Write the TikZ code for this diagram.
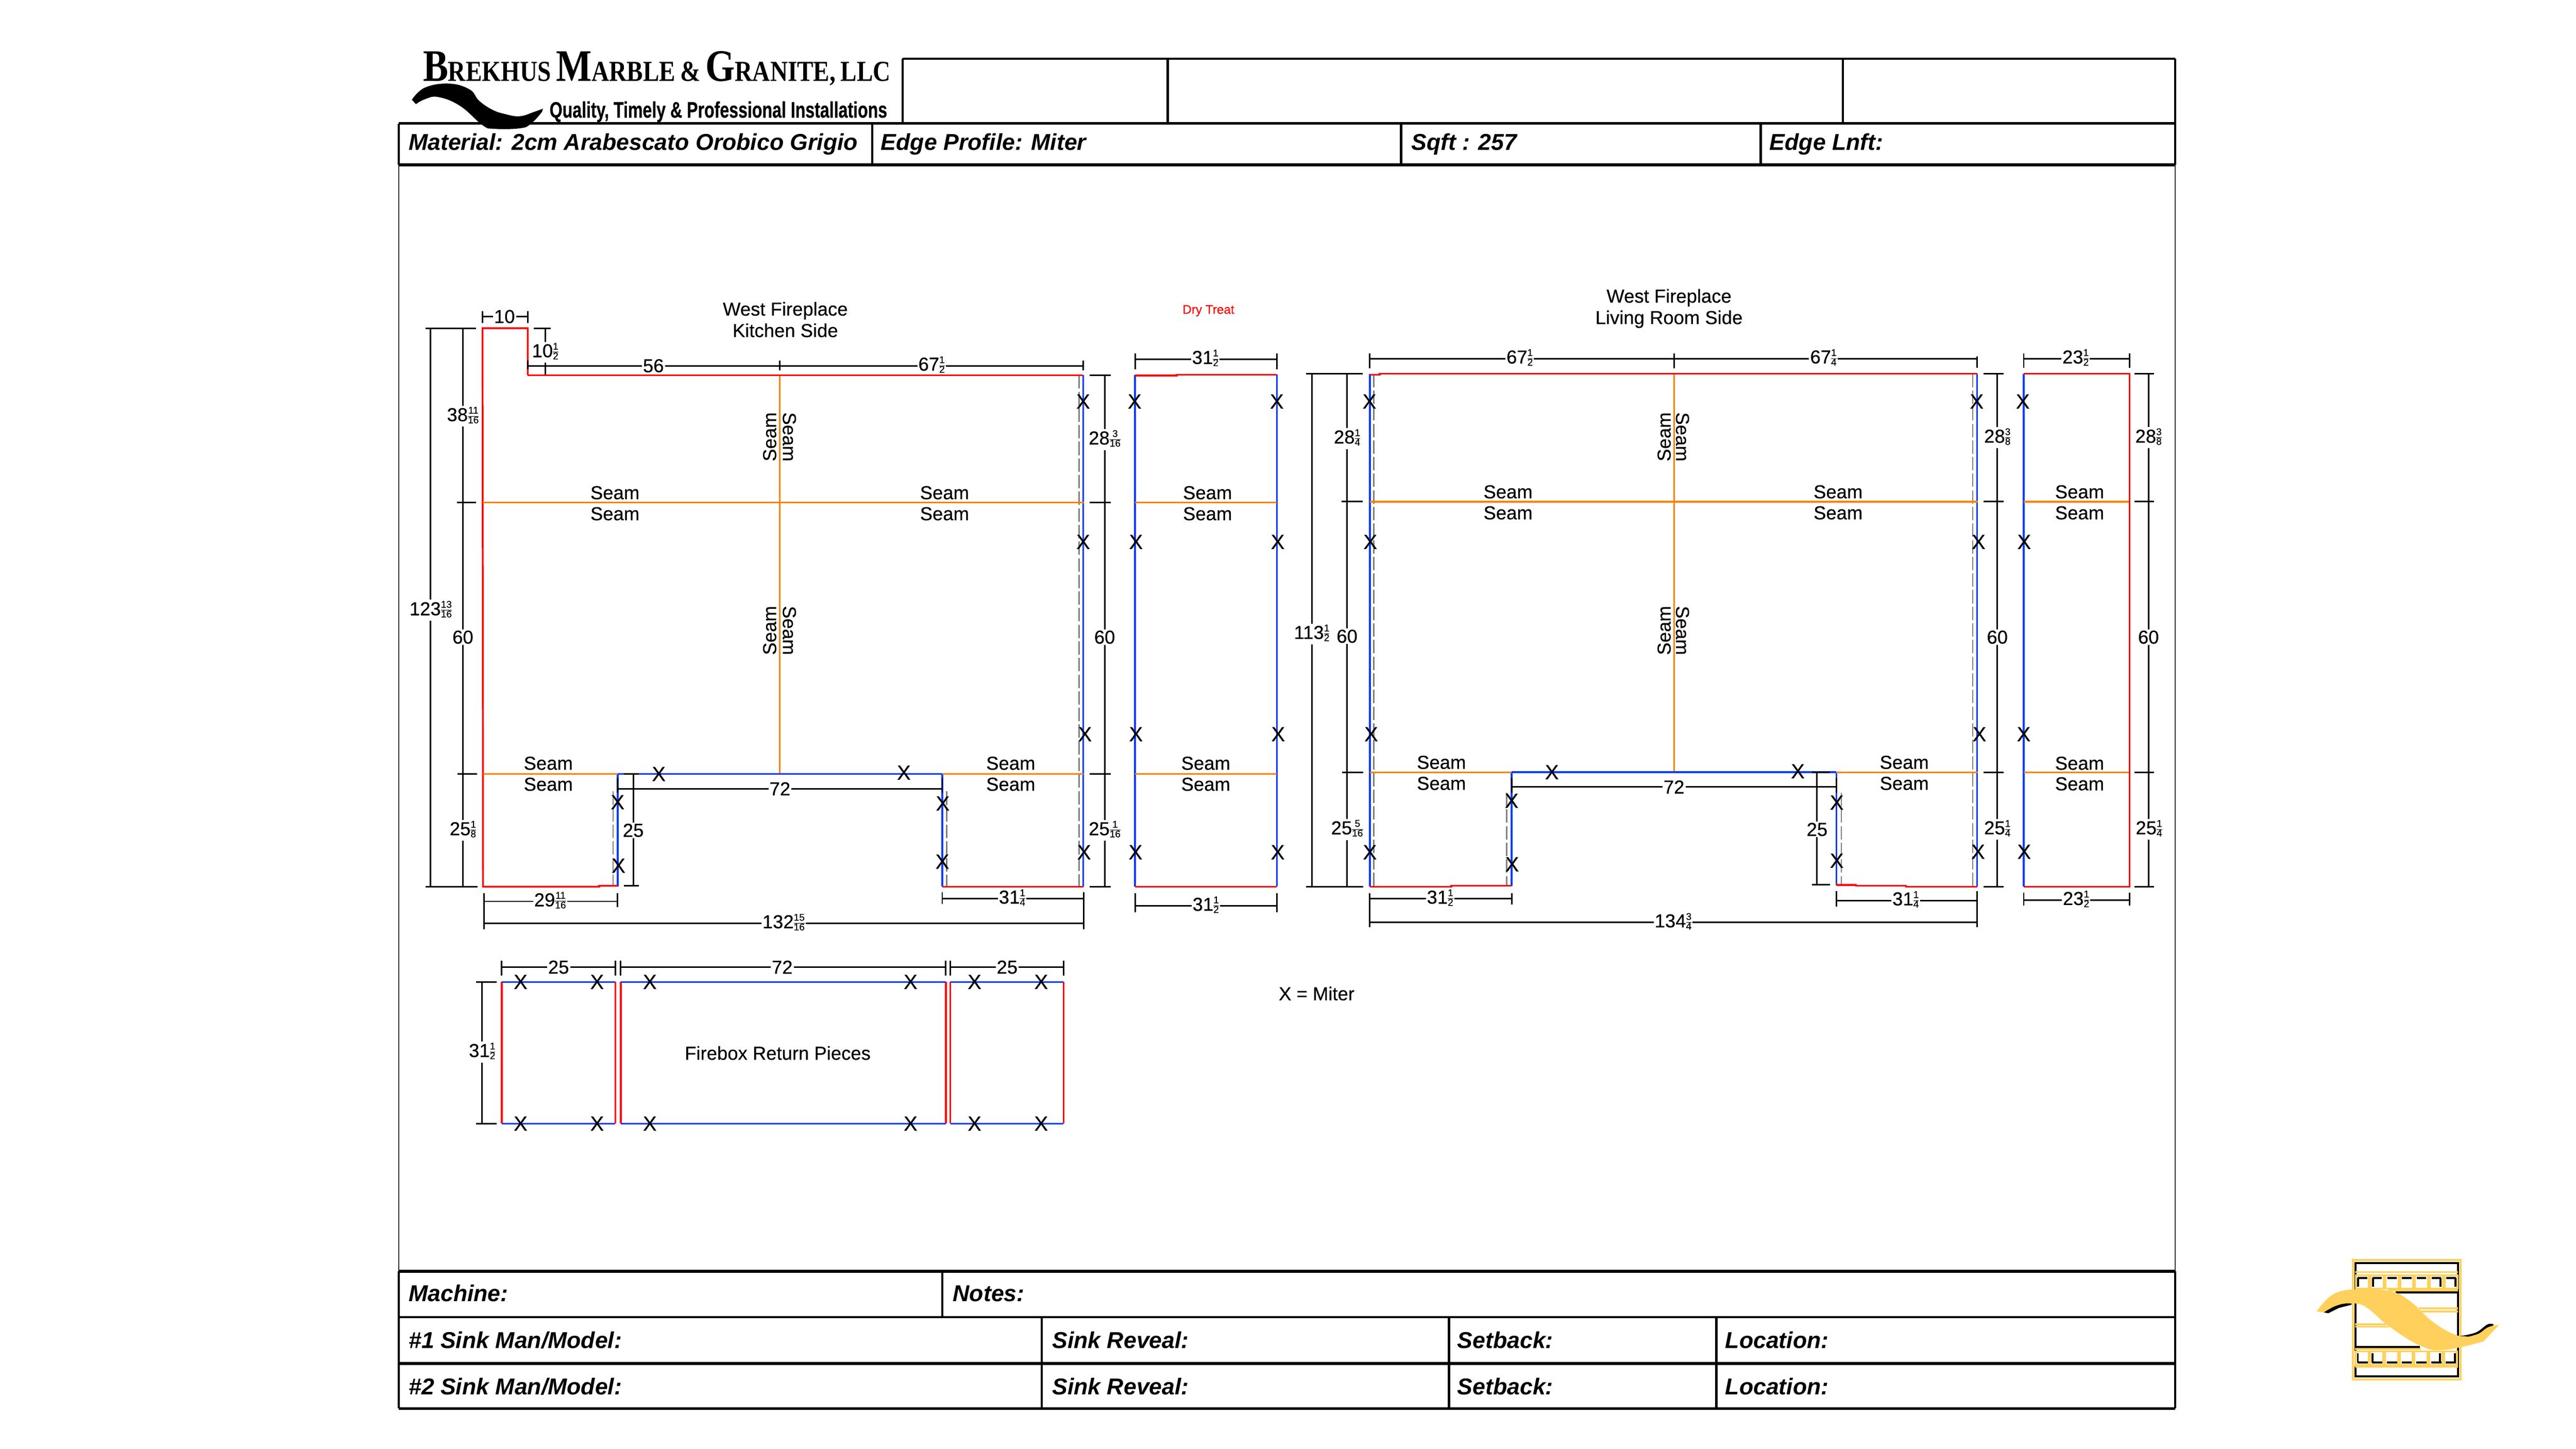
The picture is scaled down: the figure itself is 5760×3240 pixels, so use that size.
\documentclass[tikz,border=0pt]{standalone}
\usepackage{fontspec}
\usepackage{graphicx}
\setmainfont{Liberation Sans}
\newfontfamily\logofont{Liberation Serif}
\newfontfamily\dfont[FakeBold=0.3]{Liberation Sans}
\usepackage{array}
\setlength\arrayrulewidth{0.25pt}
\setlength\tabcolsep{0pt}
\definecolor{cred}{HTML}{FF0000}
\definecolor{cblue}{HTML}{0A3CFF}
\definecolor{corange}{HTML}{FF8000}
\definecolor{cgold}{HTML}{FFD15C}
\definecolor{cdash}{HTML}{808080}
\newcommand\frc[2]{\raisebox{-1.2pt}{\fontsize{5.5}{5.5}\selectfont\renewcommand\arraystretch{0.8}\begin{tabular}[b]{@{}c@{}}#1\\\hline #2\end{tabular}}}
\newcommand\bigc{\fontsize{25.2}{25.2}\selectfont}
\newcommand\smc{\fontsize{16.2}{16.2}\selectfont}
\tikzset{
 red/.style={draw=cred,line width=1pt,line join=miter},
 blue/.style={draw=cblue,line width=1pt},
 orng/.style={draw=corange,line width=0.9pt},
 dim/.style={draw=black,line width=0.85pt},
 dsh/.style={draw=cdash,line width=0.7pt,dash pattern=on 7.5pt off 1.8pt},
 lab/.style={font=\dfont\fontsize{10.5}{11}\selectfont,inner sep=0.6pt,fill=white,text=black},
 txt/.style={font=\dfont\fontsize{10.5}{11}\selectfont,inner sep=0pt,text=black},
 mark X/.style={font=\dfont\fontsize{11.5}{12}\selectfont,inner sep=0pt,text=black},
 frm/.style={draw=black,line width=1.25pt},
 thk/.style={draw=black,line width=1.7pt},
 thn/.style={draw=black!80,line width=0.5pt},
 bi/.style={font=\fontsize{12.85}{13}\selectfont\bfseries\itshape,anchor=base west,inner sep=0pt,text=black},
 gold/.style={draw=cgold,line width=1.2pt},
 goldthin/.style={draw=cgold,line width=1pt},
 blk/.style={draw=black,line width=1.1pt},
}
\newcommand\hdim[7]{\draw[dim] (#1,#4)--(#1,#5) (#2,#4)--(#2,#5) (#1,#3)--(#2,#3);\node[lab] at (#6,#3) {#7};}
\newcommand\vdim[5]{\draw[dim] (#1,#2)--(#1,#3);\node[lab] at (#1,#4) {#5};}
\newcommand\hk[3]{\draw[dim] (#1,#3)--(#2,#3);}
\newcommand\vk[3]{\draw[dim] (#1,#2)--(#1,#3);}
\newcommand\seam[2]{\node[txt] at (#1,#2) {Seam};}
\newcommand\xm[2]{\node[mark X] at (#1,#2) {X};}
\begin{document}
\begin{tikzpicture}[x=0.25pt,y=-0.25pt]
\useasboundingbox (0,0) rectangle (5760,3240);
\fill[white] (0,0) rectangle (5760,3240);
% ---------- form frame
\draw[thn] (892,369)--(892,2843) (4864,369)--(4864,2843);
\draw[frm] (2018,131)--(4864,131) (2018,131)--(2018,276) (2611,131)--(2611,276) (4121,131)--(4121,276) (4864,131)--(4864,369);
\draw[frm] (892,276)--(4864,276) (892,276)--(892,369);
\draw[thk] (892,369)--(4864,369);
\draw[frm] (1950,276)--(1950,369) (3133,276)--(3133,369) (3937,276)--(3937,369);
\draw[thk] (892,2843)--(4864,2843);
\draw[frm] (892,2946)--(4864,2946);
\draw[thk] (892,3049)--(4864,3049);
\draw[frm] (892,3150)--(4864,3150) (892,2843)--(892,3150) (4864,2843)--(4864,3150);
\draw[frm] (2107,2843)--(2107,2946) (2329,2946)--(2329,3150) (3240,2946)--(3240,3150) (3838,2946)--(3838,3150);
% form text
\node[bi] at (913,336) {Material: 2cm Arabescato Orobico Grigio};
\node[bi] at (1969,336) {Edge Profile: Miter};
\node[bi] at (3155,336) {Sqft : 257};
\node[bi] at (3956,336) {Edge Lnft:};
\node[bi] at (913,2911) {Machine:};
\node[bi] at (2130,2911) {Notes:};
\node[bi] at (913,3015) {\#1 Sink Man/Model:};
\node[bi] at (2352,3015) {Sink Reveal:};
\node[bi] at (3258,3015) {Setback:};
\node[bi] at (3857,3015) {Location:};
\node[bi] at (913,3119) {\#2 Sink Man/Model:};
\node[bi] at (2352,3119) {Sink Reveal:};
\node[bi] at (3258,3119) {Setback:};
\node[bi] at (3857,3119) {Location:};
% ---------- company logo
\fill[black] plot[smooth,tension=.7] coordinates {(921,223)(950,196)(1004,187)(1050,200)(1071,225)(1100,245)(1129,255)(1162,260)(1195,250)(1214,243)}
 -- plot[smooth,tension=.7] coordinates {(1212,250)(1187,277)(1162,287)(1104,288)(1079,280)(1029,237)(980,217)(950,222)(930,233)} -- cycle;
\node[anchor=base west,inner sep=0pt,font=\logofont\bfseries] at (945,182) {\resizebox{261.5pt}{\height}{{\bigc B}{\smc REKHUS}\,\,{\bigc M}{\smc ARBLE}\,\,{\smc \&}\,\,{\bigc G}{\smc RANITE,}\,\,{\smc LLC}}};
\node[anchor=base west,inner sep=0pt,font=\bfseries\fontsize{12.5}{13}\selectfont\addfontfeatures{FakeBold=0.5}] at (1228,263) {\resizebox{188.75pt}{\height}{Quality, Timely \& Professional Installations}};
% ---------- Kitchen side
\draw[dsh] (1371,1770)--(1371,1983) (2117,1770)--(2117,1983) (2413,839)--(2413,1983);
\draw[orng] (1744,839)--(1744,1731);
\draw[blue] (1381,1731)--(2107,1731) (1381,1731)--(1381,1983) (2107,1731)--(2107,1983) (2422,839)--(2422,1983);
\draw[red] (1381,1981)--(1340,1981)--(1340,1983)--(1080,1983)--(1079,734)--(1180,734)--(1180,839);
\draw[red] (2107,1983)--(2423,1983);
\draw[orng] (1079,1124)--(2424,1124) (1080,1731)--(1381,1731) (2107,1731)--(2423,1731);
\hdim{1079}{1180}{708}{696}{722}{1128}{10}
\vdim{1219}{734}{839}{788}{10\frc{1}{2}}
\hk{1193}{1232}{734}\hk{1193}{1232}{839}
\hdim{1180}{1744}{818}{806}{826}{1461}{56}
\hdim{1744}{2422}{818}{806}{828}{2083}{67\frc{1}{2}}
\draw[red] (1180,839)--(2422,839);
\vdim{963}{734}{1983}{1365}{123\frc{13}{16}}
\vdim{1035}{734}{1983}{1425}{60}
\node[lab] at (1035,931) {38\frc{11}{16}};
\node[lab] at (1035,1857) {25\frc{1}{8}};
\hk{952}{1065}{734}\hk{1022}{1065}{1124}\hk{1023}{1067}{1731}\hk{951}{1068}{1983}
\vdim{2470}{839}{1983}{1425}{60}
\node[lab] at (2470,983) {28\frc{3}{16}};
\node[lab] at (2470,1857) {25\frc{1}{16}};
\hk{2437}{2484}{839}\hk{2437}{2484}{1124}\hk{2437}{2484}{1731}\hk{2437}{2484}{1983}
\hdim{1381}{2107}{1764}{1740}{1773}{1744}{72}
\vdim{1416}{1731}{1981}{1857}{25}
\hk{1395}{1428}{1731}\hk{1395}{1428}{1981}
\hdim{1082}{1381}{2016}{1997}{2029}{1230}{29\frc{11}{16}}
\hdim{2107}{2423}{2010}{1995}{2022}{2263}{31\frc{1}{4}}
\hdim{1082}{2423}{2065}{1997}{2078}{1752}{132\frc{15}{16}}
\seam{1375}{1102}\seam{1375}{1149}\seam{2112}{1102}\seam{2112}{1149}
\seam{1226}{1707}\seam{1226}{1754}\seam{2260}{1707}\seam{2260}{1754}
\node[txt,rotate=90] at (1721,977) {Seam};
\node[txt,rotate=-90] at (1765,977) {Seam};
\node[txt,rotate=90] at (1721,1410) {Seam};
\node[txt,rotate=-90] at (1765,1410) {Seam};
\node[txt,align=center] at (1756,697) {\strut West Fireplace};
\node[txt,align=center] at (1756,745) {\strut Kitchen Side};
\xm{2422}{898}\xm{2422}{1212}\xm{2426}{1642}\xm{2424}{1906}
\xm{1381}{1794}\xm{1383}{1936}\xm{1473}{1731}\xm{2021}{1728}\xm{2108}{1797}\xm{2107}{1927}
% ---------- Dry treat panel
\draw[blue] (2538,839)--(2538,1983) (2855,838)--(2855,1983);
\draw[orng] (2538,1124)--(2855,1124) (2538,1731)--(2855,1731);
\draw[red] (2538,1983)--(2855,1983);
\hdim{2538}{2855}{803}{790}{826}{2695}{31\frc{1}{2}}
\hdim{2538}{2855}{2026}{1997}{2040}{2696}{31\frc{1}{2}}
\draw[red] (2538,840)--(2631,840)--(2631,838)--(2855,838);
\seam{2700}{1102}\seam{2700}{1149}\seam{2696}{1707}\seam{2696}{1754}
\node[inner sep=0pt,text=cred,font=\dfont\fontsize{7}{8}\selectfont] at (2702,695) {Dry Treat};
\xm{2537}{898}\xm{2540}{1212}\xm{2540}{1642}\xm{2539}{1906}
\xm{2855}{898}\xm{2857}{1212}\xm{2858}{1642}\xm{2857}{1906}
% ---------- Living room side
\draw[dsh] (3072,836)--(3072,1983) (3369,1773)--(3369,1981) (4117,1773)--(4117,1981) (4411,836)--(4411,1983);
\draw[orng] (3743,836)--(3743,1727);
\draw[blue] (3063,836)--(3063,1983) (4421,836)--(4421,1983) (3380,1727)--(4106,1727) (3380,1727)--(3380,1981) (4106,1727)--(4106,1979);
\draw[red] (3063,1983)--(3245,1983)--(3245,1981)--(3380,1981) (4106,1979)--(4150,1979)--(4150,1981)--(4262,1981)--(4262,1983)--(4421,1983);
\draw[orng] (3063,1122)--(4423,1122) (3063,1727)--(3380,1727) (4106,1727)--(4423,1727);
\hdim{3063}{3743}{802}{790}{824}{3398}{67\frc{1}{2}}
\hdim{3743}{4421}{802}{797}{823}{4077}{67\frc{1}{4}}
\draw[red] (3063,838)--(3085,838)--(3085,836)--(4421,836);
\vk{3743}{797}{820}
\vdim{2933}{836}{1983}{1418}{113\frc{1}{2}}
\vdim{3012}{836}{1983}{1423}{60}
\node[lab] at (3012,981) {28\frc{1}{4}};
\node[lab] at (3012,1855) {25\frc{5}{16}};
\hk{2920}{3047}{836}\hk{3000}{3047}{1122}\hk{3001}{3048}{1727}\hk{2920}{3048}{1983}
\vdim{4466}{836}{1983}{1425}{60}
\node[lab] at (4466,979) {28\frc{3}{8}};
\node[lab] at (4466,1855) {25\frc{1}{4}};
\hk{4435}{4480}{836}\hk{4435}{4480}{1122}\hk{4435}{4480}{1727}\hk{4435}{4480}{1983}
\hdim{3380}{4106}{1760}{1740}{1773}{3743}{72}
\vdim{4063}{1727}{1979}{1855}{25}
\hk{4052}{4092}{1727}\hk{4052}{4092}{1979}
\hdim{3063}{3380}{2010}{1997}{2023}{3220}{31\frc{1}{2}}
\hdim{4106}{4421}{2014}{1993}{2028}{4261}{31\frc{1}{4}}
\hdim{3063}{4421}{2063}{1997}{2074}{3741}{134\frc{3}{4}}
\seam{3372}{1100}\seam{3372}{1147}\seam{4110}{1100}\seam{4110}{1147}
\seam{3223}{1705}\seam{3223}{1752}\seam{4258}{1705}\seam{4258}{1752}
\node[txt,rotate=90] at (3721,977) {Seam};
\node[txt,rotate=-90] at (3762,977) {Seam};
\node[txt,rotate=90] at (3721,1410) {Seam};
\node[txt,rotate=-90] at (3762,1410) {Seam};
\node[txt] at (3732,668) {\strut West Fireplace};
\node[txt] at (3732,716) {\strut Living Room Side};
\xm{3062}{898}\xm{3064}{1212}\xm{3066}{1642}\xm{3063}{1906}
\xm{4420}{898}\xm{4424}{1212}\xm{4426}{1642}\xm{4423}{1905}
\xm{3470}{1727}\xm{3380}{1791}\xm{3381}{1933}\xm{4020}{1725}\xm{4107}{1795}\xm{4107}{1925}
% ---------- Right panel
\draw[blue] (4525,836)--(4525,1983);
\draw[orng] (4525,1122)--(4762,1122) (4525,1727)--(4762,1727);
\hdim{4525}{4762}{802}{790}{823}{4641}{23\frc{1}{2}}
\hdim{4525}{4762}{2013}{1996}{2025}{4642}{23\frc{1}{2}}
\draw[red] (4525,836)--(4762,836)--(4762,1983)--(4525,1983);
\vdim{4804}{836}{1983}{1425}{60}
\node[lab] at (4804,979) {28\frc{3}{8}};
\node[lab] at (4805,1855) {25\frc{1}{4}};
\hk{4773}{4817}{836}\hk{4773}{4817}{1122}\hk{4773}{4817}{1727}\hk{4773}{4817}{1983}
\seam{4650}{1100}\seam{4650}{1147}\seam{4650}{1707}\seam{4650}{1753}
\xm{4523}{898}\xm{4526}{1212}\xm{4525}{1642}\xm{4526}{1905}
% ---------- Firebox return pieces
\draw[red] (1122,2196)--(1122,2513) (1376,2196)--(1376,2513) (1388,2196)--(1388,2513) (2115,2196)--(2115,2513) (2125,2196)--(2125,2513) (2378,2196)--(2378,2513);
\draw[blue] (1122,2196)--(1376,2196) (1388,2196)--(2115,2196) (2125,2196)--(2378,2196) (1122,2513)--(1376,2513) (1388,2513)--(2115,2513) (2125,2513)--(2378,2513);
\hdim{1122}{1376}{2163}{2149}{2182}{1249}{25}
\hdim{1388}{2115}{2163}{2149}{2182}{1749}{72}
\hdim{2125}{2378}{2163}{2149}{2182}{2252}{25}
\vdim{1078}{2196}{2513}{2353}{31\frc{1}{2}}
\hk{1065}{1110}{2196}\hk{1065}{1110}{2513}
\node[txt] at (1739,2355) {Firebox Return Pieces};
\foreach \xx in {1164,1335,1453,2036,2179,2328}{\xm{\xx}{2196}\xm{\xx}{2513}}
\node[txt] at (2944,2222) {X = Miter};
% ---------- gold emblem
\draw[blk] (5267,2825) rectangle (5496,3078);
\draw[gold] (5261,2818) rectangle (5502,3085);
\draw[blk] (5267,3012)--(5411,3012) (5357,2890)--(5496,2890);
\draw[goldthin] (5266,2845)--(5496,2845) (5266,3057)--(5496,3057);
\foreach \i in {0,...,6}{
 \pgfmathsetmacro\xa{5266+33*\i}\pgfmathsetmacro\xb{\xa+33}
 \draw[blk] (\xa+6,2858)--(\xb-6,2858);
 \draw[blk] (\xa+5,3047)--(\xb-5,3047);
 \draw[goldthin] (\xa+2,2852) rectangle (\xb-2,2882);
 \draw[goldthin] (\xa+1,3022) rectangle (\xb-3,3053);
}
\foreach \xa in {5266,5299}{\draw[blk] (\xa+7,2858)--(\xa+7,2878) (\xa+6,3026)--(\xa+6,3047);}
\foreach \xa in {5464,5431}{\draw[blk] (\xa+26,2858)--(\xa+26,2878) (\xa+25,3026)--(\xa+25,3047);}
\draw[goldthin] (5340,2886)--(5496,2886) (5266,3017)--(5413,3017);
\draw[goldthin] (5408,2926)--(5496,2926) (5413,2933)--(5496,2933) (5266,2962)--(5336,2962) (5266,2967)--(5342,2967);
\fill[black] plot[smooth,tension=.7] coordinates {(5196,2935)(5224,2918)(5258,2914)}--(5258,2918)--plot[smooth,tension=.7] coordinates{(5230,2925)(5206,2937)}--cycle;
\fill[black] plot[smooth,tension=.7] coordinates {(5500,2988)(5536,2980)(5562,2962)(5576,2962)}--(5570,2970)--(5530,2990)--cycle;
\fill[cgold] plot[smooth,tension=.7] coordinates {(5180,2933)(5220,2893)(5283,2883)(5346,2888)(5389,2910)(5441,2957)(5496,2987)(5536,2985)(5564,2968)(5588,2963)}
 -- plot[smooth,tension=.7] coordinates {(5553,3000)(5466,3019)(5413,3010)(5343,2967)(5290,2923)(5255,2915)(5224,2920)(5196,2935)} -- cycle;
\end{tikzpicture}
\end{document}
